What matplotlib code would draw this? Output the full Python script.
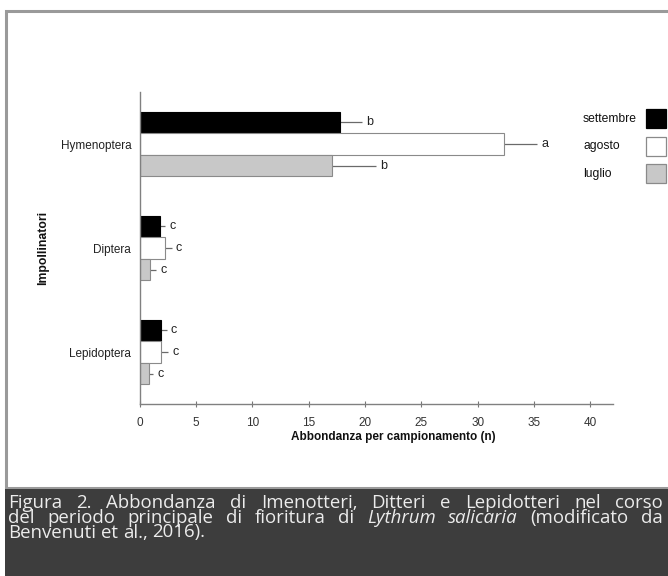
import numpy as np
import matplotlib
matplotlib.use("Agg")
import matplotlib.pyplot as plt
from matplotlib.patches import Rectangle

# data
categories = ["Lepidoptera", "Diptera", "Hymenoptera"]
months = ["settembre", "agosto", "luglio"]
settembre = [1.9, 1.8, 17.8]
agosto = [1.9, 2.3, 32.3]
luglio = [0.8, 0.9, 17.1]
errSettembre = [0.5, 0.45, 1.9]
errAgosto = [0.65, 0.55, 2.95]
errLuglio = [0.4, 0.6, 3.9]
lettersSettembre = ["c", "c", "b"]
lettersAgosto = ["c", "c", "a"]
lettersLuglio = ["c", "c", "b"]
xTicks = [0, 5, 10, 15, 20, 25, 30, 35, 40]

captionLines = [
    [("Figura", "normal"), ("2.", "normal"), ("Abbondanza", "normal"), ("di", "normal"),
     ("Imenotteri,", "normal"), ("Ditteri", "normal"), ("e", "normal"),
     ("Lepidotteri", "normal"), ("nel", "normal"), ("corso", "normal")],
    [("del", "normal"), ("periodo", "normal"), ("principale", "normal"), ("di", "normal"),
     ("fioritura", "normal"), ("di", "normal"), ("Lythrum", "italic"), ("salicaria", "italic"),
     ("(modificato", "normal"), ("da", "normal")],
    [("Benvenuti", "normal"), ("et", "normal"), ("al.,", "normal"), ("2016).", "normal")],
]

W, H = 668, 576
CHART_FONT = "Liberation Sans"
FS = 8.5


def px(x, y):
    return x / W, 1 - y / H


fig = plt.figure(figsize=(W / 100, H / 100), dpi=100)
fig.patch.set_facecolor("white")

# panel frame and caption band (behind the axes)
fig.add_artist(Rectangle(px(6, 488), 700 / W, 477 / H, transform=fig.transFigure,
                         facecolor="white", edgecolor="#9a9a9a", linewidth=2.2, zorder=-10))
fig.add_artist(Rectangle(px(5, 576), 700 / W, 87 / H, transform=fig.transFigure,
                         facecolor="#3d3d3d", edgecolor="none", zorder=-9))

left, bottom = px(139.5, 404)
right, top = px(613, 92)
ax = fig.add_axes([left, bottom, right - left, top - bottom])
ax.set_facecolor("none")

y = np.arange(len(categories))
h = 0.208
colors = [("black", "black"), ("white", "#8a8a8a"), ("#c8c8c8", "#8a8a8a")]
series = [
    (settembre, errSettembre, lettersSettembre, colors[0], h),
    (agosto, errAgosto, lettersAgosto, colors[1], 0),
    (luglio, errLuglio, lettersLuglio, colors[2], -h),
]
for vals, errs, letters, (fc, ec), off in series:
    ax.barh(y + off, vals, height=h, color=fc, edgecolor=ec, linewidth=0.8, zorder=2)
    ax.errorbar(vals, y + off, xerr=[np.zeros(len(vals)), errs], fmt="none",
                ecolor="#6a6a6a", elinewidth=0.9, capsize=0, zorder=1)
    for v, e, yy, lab in zip(vals, errs, y + off, letters):
        ax.annotate(lab, (v + e, yy), xytext=(3, 0), textcoords="offset points",
                    ha="left", va="center", fontsize=9, color="#222222",
                    family=CHART_FONT)

ax.set_xlim(0, 42)
ax.set_ylim(-0.5, 2.5)
ax.set_xticks(xTicks)
ax.set_xticklabels([str(t) for t in xTicks], family=CHART_FONT, fontsize=FS, color="#333333")
ax.set_yticks(y)
ax.set_yticklabels(categories, family=CHART_FONT, fontsize=FS, color="#222222")
ax.tick_params(axis="y", length=0, pad=6)
ax.tick_params(axis="x", length=4, width=0.8, direction="inout", color="#777777", pad=7)
for s in ["top", "right"]:
    ax.spines[s].set_visible(False)
for s in ["left", "bottom"]:
    ax.spines[s].set_color("#808080")
    ax.spines[s].set_linewidth(1.0)

fig.text(*px(393, 437), "Abbondanza per campionamento (n)", ha="center", va="center",
         fontsize=FS, fontweight="bold", family=CHART_FONT, color="#111111")
fig.text(*px(43, 248), "Impollinatori", ha="center", va="center", rotation=90,
         fontsize=8.8, fontweight="bold", family=CHART_FONT, color="#111111")

# legend: labels left-aligned, swatches on the right
legRows = [118.5, 146.5, 173.5]
for lab, (fc, ec), yc in zip(months, colors, legRows):
    fig.text(*px(583, yc), lab, ha="left", va="center", fontsize=8.7,
             family=CHART_FONT, color="#111111")
    fig.add_artist(Rectangle(px(646, yc + 9.5), 20 / W, 19 / H, transform=fig.transFigure,
                             facecolor=fc, edgecolor=ec, linewidth=0.9))

# caption, justified word by word
renderer = fig.canvas.get_renderer()
capFont = "Open Sans"
probe = fig.text(0, 0, "Benvenuti et al., 2016).", fontsize=10, family=capFont)
size = 0.86 * 10 * 229 / probe.get_window_extent(renderer).width
probe.remove()
sp = fig.text(0, 0, "a a", fontsize=size, family=capFont)
aa = fig.text(0, 0, "aa", fontsize=size, family=capFont)
spaceW = sp.get_window_extent(renderer).width - aa.get_window_extent(renderer).width
sp.remove()
aa.remove()

xL, xR = 8, 663
baselines = [508.5, 523, 537.5]
for i, (words, base) in enumerate(zip(captionLines, baselines)):
    texts = [fig.text(0, 0, w, fontsize=size, family=capFont, style=st, color="#ececec",
                      va="baseline") for w, st in words]
    widths = [t.get_window_extent(renderer).width for t in texts]
    if i < len(captionLines) - 1:
        gap = (xR - xL - sum(widths)) / (len(words) - 1)
    else:
        gap = spaceW
    x = xL
    for t, w in zip(texts, widths):
        t.set_position(px(x, base))
        x += w + gap

fig.savefig("out.png", dpi=100)
